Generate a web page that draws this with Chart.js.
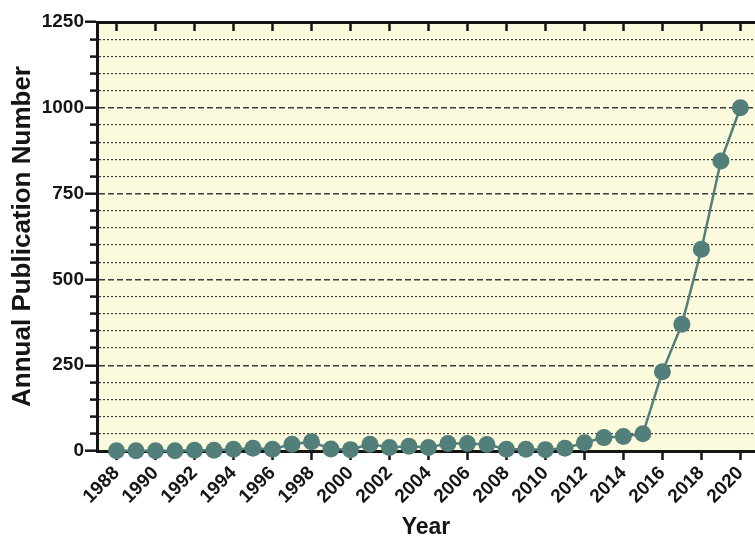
<!DOCTYPE html>
<html>
<head>
<meta charset="utf-8">
<script src="https://cdn.jsdelivr.net/npm/chart.js@4.4.1/dist/chart.umd.min.js"></script>
<style>
  html, body { margin: 0; padding: 0; background: #ffffff; overflow: hidden; }
  #wrap { position: relative; width: 755px; height: 537px; }
</style>
</head>
<body>
<div id="wrap"><canvas id="c"></canvas></div>
<script>
// ---- data ----
const years = [1988, 1989, 1990, 1991, 1992, 1993, 1994, 1995, 1996, 1997, 1998,
               1999, 2000, 2001, 2002, 2003, 2004, 2005, 2006, 2007, 2008, 2009,
               2010, 2011, 2012, 2013, 2014, 2015, 2016, 2017, 2018, 2019, 2020];
const publications = [1, 1, 1, 1, 2, 2, 5, 8, 5, 20, 27,
                      6, 4, 20, 10, 14, 10, 22, 22, 19, 5, 5,
                      4, 8, 24, 39, 42, 50, 231, 369, 588, 845, 1000];
const yTickLabels = [0, 250, 500, 750, 1000, 1250];
const xAxisTitle = 'Year';
const yAxisTitle = 'Annual Publication Number';

const FONT = '"Liberation Sans", Arial, Helvetica, sans-serif';
const TEAL = '#527f7a';
const AXIS = '#151515';

const plotBg = {
  id: 'plotBg',
  beforeDraw(chart) {
    const a = chart.chartArea, ctx = chart.ctx;
    ctx.save();
    ctx.fillStyle = '#fcfadc';
    ctx.fillRect(a.left, a.top, a.right - a.left, a.bottom - a.top);
    ctx.restore();
  }
};

const isMajor = c => c.tick && yTickLabels.includes(c.tick.value);
const noPad = s => { s.paddingLeft = 0; s.paddingRight = 0; s.paddingTop = 0; s.paddingBottom = 0; };

new Chart(document.getElementById('c'), {
  type: 'line',
  data: {
    datasets: [{
      data: years.map((y, i) => ({ x: y, y: publications[i] })),
      borderColor: TEAL,
      backgroundColor: TEAL,
      pointBackgroundColor: TEAL,
      pointBorderColor: TEAL,
      pointBorderWidth: 0,
      pointRadius: 8.5,
      borderWidth: 2.5,
      tension: 0,
      clip: false
    }]
  },
  options: {
    responsive: true,
    maintainAspectRatio: false,
    animation: false,
    devicePixelRatio: 1,
    layout: { padding: 0, autoPadding: false },
    plugins: { legend: { display: false }, tooltip: { enabled: false } },
    scales: {
      x: {
        type: 'linear',
        position: 'bottom',
        min: 1987,
        max: 2020.75,
        afterFit(s) { s.height = 86; noPad(s); },
        ticks: {
          stepSize: 2,
          includeBounds: false,
          autoSkip: false,
          minRotation: 45,
          maxRotation: 45,
          padding: 2,
          color: AXIS,
          font: { family: FONT, size: 19, weight: 'bold' },
          callback: v => String(v)
        },
        grid: {
          drawOnChartArea: false,
          drawTicks: true,
          tickLength: 9,
          tickWidth: 2.5,
          tickColor: AXIS
        },
        border: { display: true, color: AXIS, width: 3 },
        title: {
          display: true,
          text: xAxisTitle,
          color: AXIS,
          font: { family: FONT, size: 23, weight: 'bold', lineHeight: 1 },
          padding: { top: 0, bottom: -2 }
        }
      },
      x2: {
        type: 'linear',
        position: 'top',
        min: 1987,
        max: 2020.75,
        afterFit(s) { s.height = 22; noPad(s); },
        ticks: { display: false, stepSize: 2, includeBounds: false },
        grid: {
          drawOnChartArea: false,
          drawTicks: true,
          tickLength: -9,
          tickWidth: 2.5,
          tickColor: AXIS
        },
        border: { display: true, color: AXIS, width: 3 }
      },
      y: {
        type: 'linear',
        position: 'left',
        min: 0,
        max: 1250,
        afterFit(s) { s.width = 97; noPad(s); },
        ticks: {
          stepSize: 50,
          autoSkip: false,
          padding: 1,
          color: AXIS,
          font: { family: FONT, size: 19, weight: 'bold' },
          callback: v => (yTickLabels.includes(v) ? String(v) : '')
        },
        grid: {
          drawTicks: true,
          tickLength: 12,
          tickWidth: 2.5,
          tickColor: AXIS,
          color: c => (c.tick && (c.tick.value === 0 || c.tick.value === 1250)) ? 'rgba(0,0,0,0)' : '#3c3c3c',
          lineWidth: c => isMajor(c) ? 1.4 : 1.2,
          tickBorderDash: c => isMajor(c) ? [] : [6, 5],
          tickBorderDashOffset: c => isMajor(c) ? 0 : 6
        },
        border: {
          display: true,
          color: AXIS,
          width: 3,
          dash: c => isMajor(c) ? [6, 3] : [2, 2]
        },
        title: {
          display: true,
          text: yAxisTitle,
          color: AXIS,
          font: { family: FONT, size: 26, weight: 'bold', lineHeight: 1 },
          padding: { top: 10, bottom: 0 }
        }
      }
    }
  },
  plugins: [plotBg]
});
</script>
</body>
</html>
